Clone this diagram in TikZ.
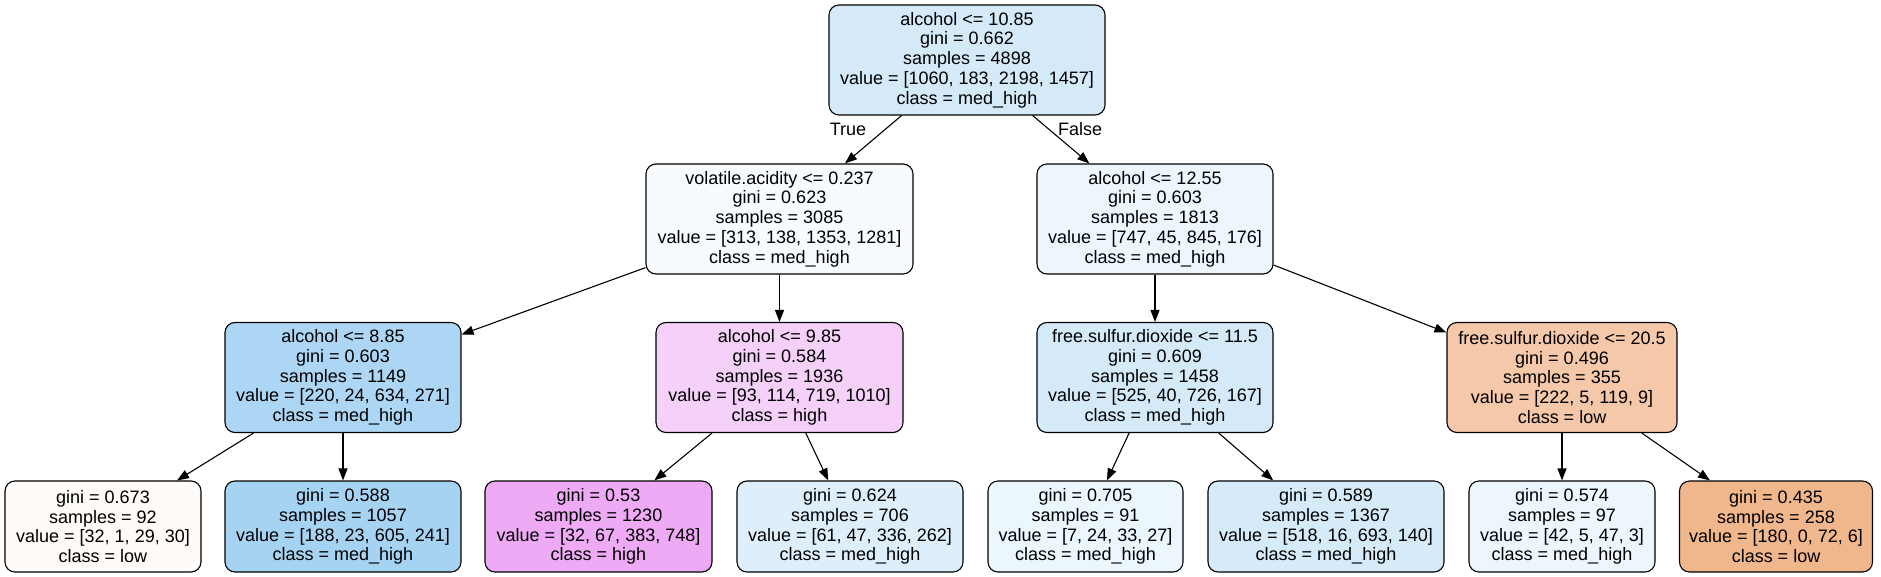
\documentclass[tikz,border=0pt]{standalone}
\usepackage{fontspec}
\setmainfont{Liberation Sans}
\usetikzlibrary{arrows.meta}
\definecolor{cRoot}{HTML}{D4EAF9}
\definecolor{cV}{HTML}{F7FBFE}
\definecolor{cR}{HTML}{EDF6FD}
\definecolor{cA}{HTML}{ADD6F4}
\definecolor{cB}{HTML}{F5D0F9}
\definecolor{cC}{HTML}{D4EAF9}
\definecolor{cD}{HTML}{F4C8A9}
\definecolor{cLa}{HTML}{FEFBF9}
\definecolor{cLb}{HTML}{A7D3F3}
\definecolor{cLc}{HTML}{EEAAF4}
\definecolor{cLd}{HTML}{DEEFFB}
\definecolor{cLe}{HTML}{ECF6FD}
\definecolor{cLf}{HTML}{D6EBFA}
\definecolor{cLg}{HTML}{EDF6FD}
\definecolor{cLh}{HTML}{F0B68C}
\begin{document}
\begin{tikzpicture}[x=1pt,y=-1pt,
  tn/.style={draw=black, line width=1.1pt, rounded corners=10pt, align=center, inner sep=0pt,
    font=\fontsize{18}{19.8}\selectfont},
  inner/.style={tn, minimum height=110pt},
  leaf/.style={tn, minimum height=91pt},
  arr/.style={-{Triangle[length=12pt,width=9pt]}, line width=1.1pt},
  lbl/.style={font=\fontsize{18}{19.8}\selectfont, inner sep=0pt}]
\useasboundingbox (0,0) rectangle (1881,577);
% root
\node[inner, fill=cRoot, minimum width=276pt] (root) at (967,60)
  {alcohol <= 10.85\\gini = 0.662\\samples = 4898\\value = [1060, 183, 2198, 1457]\\class = med\_high};
% level 1
\node[inner, fill=cV, minimum width=267pt] (v) at (779.5,219)
  {volatile.acidity <= 0.237\\gini = 0.623\\samples = 3085\\value = [313, 138, 1353, 1281]\\class = med\_high};
\node[inner, fill=cR, minimum width=236pt] (r) at (1155,219)
  {alcohol <= 12.55\\gini = 0.603\\samples = 1813\\value = [747, 45, 845, 176]\\class = med\_high};
% level 2
\node[inner, fill=cA, minimum width=236pt] (a) at (343,377.5)
  {alcohol <= 8.85\\gini = 0.603\\samples = 1149\\value = [220, 24, 634, 271]\\class = med\_high};
\node[inner, fill=cB, minimum width=247pt] (b) at (779.5,377.5)
  {alcohol <= 9.85\\gini = 0.584\\samples = 1936\\value = [93, 114, 719, 1010]\\class = high};
\node[inner, fill=cC, minimum width=236pt] (c) at (1155,377.5)
  {free.sulfur.dioxide <= 11.5\\gini = 0.609\\samples = 1458\\value = [525, 40, 726, 167]\\class = med\_high};
\node[inner, fill=cD, minimum width=230pt] (d) at (1562,377.5)
  {free.sulfur.dioxide <= 20.5\\gini = 0.496\\samples = 355\\value = [222, 5, 119, 9]\\class = low};
% leaves
\node[leaf, fill=cLa, minimum width=196pt] (l1) at (103,526.5)
  {gini = 0.673\\samples = 92\\value = [32, 1, 29, 30]\\class = low};
\node[leaf, fill=cLb, minimum width=236pt] (l2) at (343,526.5)
  {gini = 0.588\\samples = 1057\\value = [188, 23, 605, 241]\\class = med\_high};
\node[leaf, fill=cLc, minimum width=227pt] (l3) at (598.5,526.5)
  {gini = 0.53\\samples = 1230\\value = [32, 67, 383, 748]\\class = high};
\node[leaf, fill=cLd, minimum width=226pt] (l4) at (850,526.5)
  {gini = 0.624\\samples = 706\\value = [61, 47, 336, 262]\\class = med\_high};
\node[leaf, fill=cLe, minimum width=195pt] (l5) at (1085.5,526.5)
  {gini = 0.705\\samples = 91\\value = [7, 24, 33, 27]\\class = med\_high};
\node[leaf, fill=cLf, minimum width=236pt] (l6) at (1326,526.5)
  {gini = 0.589\\samples = 1367\\value = [518, 16, 693, 140]\\class = med\_high};
\node[leaf, fill=cLg, minimum width=186pt] (l7) at (1562,526.5)
  {gini = 0.574\\samples = 97\\value = [42, 5, 47, 3]\\class = med\_high};
\node[leaf, fill=cLh, minimum width=193pt] (l8) at (1776,526.5)
  {gini = 0.435\\samples = 258\\value = [180, 0, 72, 6]\\class = low};
% edges
\draw[arr] (root) -- (v);
\draw[arr] (root) -- (r);
\draw[arr] (v) -- (a);
\draw[arr] (v) -- (b);
\draw[arr] (r) -- (c);
\draw[arr] (r) -- (d);
\draw[arr] (a) -- (l1);
\draw[arr] (a) -- (l2);
\draw[arr] (b) -- (l3);
\draw[arr] (b) -- (l4);
\draw[arr] (c) -- (l5);
\draw[arr] (c) -- (l6);
\draw[arr] (d) -- (l7);
\draw[arr] (d) -- (l8);
% edge labels
\node[lbl] (tlab) at (848,129) {True};
\node[lbl] (flab) at (1080,129) {False};
\end{tikzpicture}
\end{document}
